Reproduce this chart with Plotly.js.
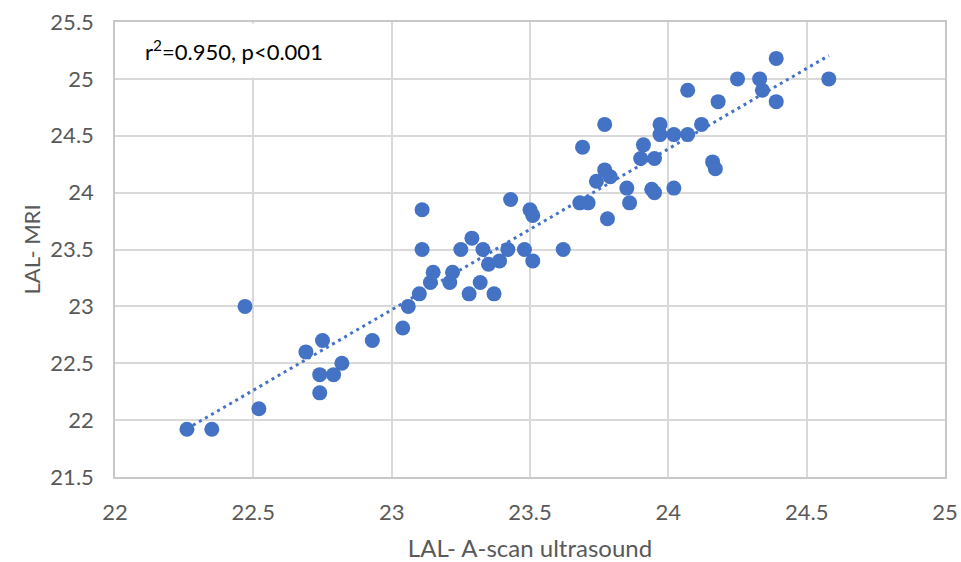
<!DOCTYPE html>
<html>
<head>
<meta charset="utf-8">
<script src="https://cdn.plot.ly/plotly-3.0.1.min.js"></script>
<style>html,body{margin:0;padding:0;background:#fff;}#chart{width:961px;height:562px;}</style>
</head>
<body>
<div id="chart"></div>
<script>
// LAL measured by A-scan ultrasound (x) and MRI (y)
const lalAscan = [22.26, 22.35, 22.47, 22.52, 22.69, 22.75, 22.74, 22.74, 22.79, 22.82,
  22.93, 23.04, 23.06, 23.10, 23.11, 23.11, 23.14, 23.15, 23.21, 23.22,
  23.25, 23.28, 23.29, 23.32, 23.33, 23.35, 23.37, 23.39, 23.42, 23.43,
  23.48, 23.50, 23.51, 23.51, 23.62, 23.69, 23.77, 23.78, 23.74, 23.77,
  23.79, 23.68, 23.71, 23.85, 23.86, 23.91, 23.90, 23.95, 23.94, 23.95,
  23.97, 23.97, 24.02, 24.02, 24.07, 24.07, 24.12, 24.16, 24.17, 24.18,
  24.25, 24.33, 24.34, 24.39, 24.39, 24.58];
const lalMri = [21.92, 21.92, 23.00, 22.10, 22.60, 22.70, 22.40, 22.24, 22.40, 22.50,
  22.70, 22.81, 23.00, 23.11, 23.85, 23.50, 23.21, 23.30, 23.21, 23.30,
  23.50, 23.11, 23.60, 23.21, 23.50, 23.37, 23.11, 23.40, 23.50, 23.94,
  23.50, 23.85, 23.80, 23.40, 23.50, 24.40, 24.60, 23.77, 24.10, 24.20,
  24.14, 23.91, 23.91, 24.04, 23.91, 24.42, 24.30, 24.30, 24.03, 24.00,
  24.60, 24.51, 24.51, 24.04, 24.51, 24.90, 24.60, 24.27, 24.21, 24.80,
  25.00, 25.00, 24.90, 25.18, 24.80, 25.00];
const xTicks = [22, 22.5, 23, 23.5, 24, 24.5, 25];
const yTicks = [21.5, 22, 22.5, 23, 23.5, 24, 24.5, 25, 25.5];
const statsText = "r<sup>2</sup>=0.950, p&lt;0.001";

// least-squares linear trendline over the data range
const n = lalAscan.length;
const mx = lalAscan.reduce((a, b) => a + b, 0) / n;
const my = lalMri.reduce((a, b) => a + b, 0) / n;
let sxy = 0, sxx = 0;
for (let i = 0; i < n; i++) { sxy += (lalAscan[i] - mx) * (lalMri[i] - my); sxx += (lalAscan[i] - mx) ** 2; }
const slope = sxy / sxx, icpt = my - slope * mx;
const xMin = Math.min(...lalAscan), xMax = Math.max(...lalAscan);
const trendX = [xMin, xMax];
const trendY = trendX.map(v => icpt + slope * v);

const font = "Lato, 'Open Sans', sans-serif";
const data = [
  {x: lalAscan, y: lalMri, type: 'scatter', mode: 'markers',
   marker: {color: '#4472C4', size: 15}, hoverinfo: 'x+y'},
  {x: trendX, y: trendY, type: 'scatter', mode: 'lines',
   line: {color: '#4472C4', width: 3, dash: '3px,4px'}, hoverinfo: 'skip'}
];
const layout = {
  width: 961, height: 562,
  margin: {l: 115, r: 16, t: 22, b: 85},
  paper_bgcolor: '#fff', plot_bgcolor: '#fff',
  showlegend: false,
  font: {family: font, color: '#595959', size: 22},
  xaxis: {range: [22, 25], tickvals: xTicks, ticktext: xTicks.map(String),
    showgrid: true, gridcolor: '#d9d9d9', gridwidth: 1.5, zeroline: false,
    showline: true, linecolor: '#c8c8c8', linewidth: 1.5, mirror: true,
    ticks: '', ticklabelstandoff: 15,
    title: {text: 'LAL- A-scan ultrasound', font: {size: 24, color: '#595959'}, standoff: 18}},
  yaxis: {range: [21.5, 25.5], tickvals: yTicks, ticktext: yTicks.map(String),
    showgrid: true, gridcolor: '#d9d9d9', gridwidth: 1.5, zeroline: false,
    showline: true, linecolor: '#c8c8c8', linewidth: 1.5, mirror: true,
    ticks: '', ticklabelstandoff: 15,
    title: {text: 'LAL- MRI', font: {size: 22, color: '#595959'}, standoff: 4}},
  annotations: [{xref: 'paper', yref: 'paper', x: 0.02, y: 0.997, xanchor: 'left', yanchor: 'top',
    text: statsText, showarrow: false, bgcolor: '#fff', borderpad: 12,
    font: {family: font, size: 22, color: '#000'}}]
};
Plotly.newPlot('chart', data, layout, {displayModeBar: false});
</script>
</body>
</html>
